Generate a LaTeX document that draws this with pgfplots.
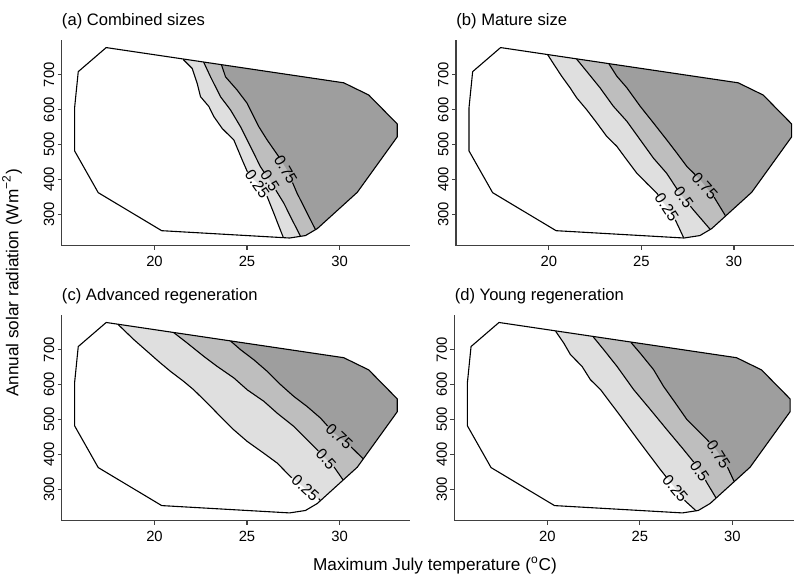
\documentclass[border=0pt]{standalone}
\usepackage{fontspec}
\setmainfont{Liberation Sans}
\usepackage{pgfplots}
\pgfplotsset{compat=1.18}

\definecolor{lev1}{gray}{0.875}
\definecolor{lev2}{gray}{0.745}
\definecolor{lev3}{gray}{0.62}
\definecolor{axcol}{gray}{0.25}

\pgfplotsset{
  panel/.style={
    scale only axis, width=174.3pt, height=102.9pt,
    xmin=14.98, xmax=33.82, ymin=210, ymax=800,
    axis lines=left,
    axis line style={-, axcol, line width=0.6pt},
    xtick={20,25,30}, ytick={300,400,500,600,700},
    tick align=outside, major tick length=2pt,
    tick style={axcol, line width=0.6pt},
    /pgf/number format/assume math mode=true,
    tick label style={font=\fontsize{7.4}{8}\selectfont},
    xticklabel style={inner sep=3pt},
    yticklabel style={rotate=90, anchor=south, inner sep=1.5pt},
    clip=false,
  },
  cline/.style={black, line width=0.55pt, line join=round},
}
\tikzset{
  clab/.style={font=\fontsize{7.8}{8}\selectfont, inner sep=0pt},
  ptitle/.style={anchor=base west, inner sep=0pt, yshift=7.4pt,
                 font=\fontsize{8.3}{9}\selectfont},
}

% outline of the sampled climate space (same in every panel)
\newcommand\drawhull{%
  \addplot[cline] coordinates {
    (17.39,778) (30.23,677) (31.58,642) (33.12,559) (33.12,522) (30.96,363)
    (28.8,259) (28.16,239) (27.3,232) (20.39,253) (16.96,362) (15.68,482)
    (15.68,604) (15.88,709)} -- cycle;}

\begin{document}
\begin{tikzpicture}
\useasboundingbox (0,0) rectangle (397pt,288pt);

% ---------------- (a) Combined sizes
\begin{axis}[panel, at={(30.8pt,165.15pt)}, anchor=south west]
  \addplot[fill=lev1, draw=none] coordinates {
    (21.55,744) (22.04,718) (22.31,675) (22.49,637) (22.94,609) (23.21,580) (23.66,546)
    (24.29,513) (24.74,456) (25.1,413) (25.55,390) (26.09,352) (26.45,303) (26.72,266)
    (26.96,234) (27.3,232) (28.16,239) (28.8,259) (30.96,363) (33.12,522) (33.12,559)
    (31.58,642) (30.23,677)} -- cycle;
  \addplot[fill=lev2, draw=none] coordinates {
    (22.66,736) (23.03,694) (23.57,637) (24.11,599) (24.65,551) (25.19,494) (25.73,436)
    (26.45,379) (26.99,332) (27.44,284) (27.89,237) (28.16,239) (28.8,259) (30.96,363)
    (33.12,522) (33.12,559) (31.58,642) (30.23,677)} -- cycle;
  \addplot[fill=lev3, draw=none] coordinates {
    (23.62,729) (23.84,694) (24.47,656) (25.01,618) (25.28,589) (25.64,551) (26.09,513)
    (26.72,465) (27.17,427) (27.71,360) (28.16,313) (28.7,256) (28.8,259) (30.96,363)
    (33.12,522) (33.12,559) (31.58,642) (30.23,677)} -- cycle;
  % contour lines
  \addplot[cline] coordinates {(21.55,744) (22.04,718) (22.31,675) (22.49,637) (22.94,609)
    (23.21,580) (23.66,546) (24.29,513) (24.74,456) (25.02,422)};
  \addplot[cline] coordinates {(26.08,352) (26.45,303) (26.72,266) (26.96,234)};
  \addplot[cline] coordinates {(22.66,736) (23.03,694) (23.57,637) (24.11,599) (24.65,551)
    (25.19,494) (25.73,436) (25.92,421)};
  \addplot[cline] coordinates {(26.56,369) (26.99,332) (27.44,284) (27.89,237)};
  \addplot[cline] coordinates {(23.62,729) (23.84,694) (24.47,656) (25.01,618) (25.28,589)
    (25.64,551) (26.09,513) (26.72,465) (26.73,465)};
  \addplot[cline] coordinates {(27.46,391) (27.71,360) (28.16,313) (28.7,256)};
  \drawhull
  \node[clab, rotate=-55] at (axis cs:25.55,387) {0.25};
  \node[clab, rotate=-57] at (axis cs:26.24,395) {0.5};
  \node[clab, rotate=-60] at (axis cs:27.09,428) {0.75};
  \node[ptitle] at (rel axis cs:0,1) {(a) Combined sizes};
\end{axis}

% ---------------- (b) Mature size
\begin{axis}[panel, at={(228pt,165.15pt)}, anchor=south west]
  \addplot[fill=lev1, draw=none] coordinates {
    (19.93,758) (20.33,725) (20.69,696) (21.14,663) (21.5,634) (22.04,600) (22.59,562)
    (23.13,523) (23.67,495) (24.21,456) (24.75,418) (25.29,389) (25.84,360) (26.2,332)
    (26.65,303) (27.01,264) (27.28,233) (28.16,239) (28.8,259) (30.96,363) (33.12,522)
    (33.12,559) (31.58,642) (30.23,677)} -- cycle;
  \addplot[fill=lev2, draw=none] coordinates {
    (21.5,745) (22.04,710) (22.76,663) (23.48,610) (24.21,567) (24.93,514) (25.65,461)
    (26.36,418) (27.09,360) (27.82,312) (28.73,256) (28.8,259) (30.96,363) (33.12,522)
    (33.12,559) (31.58,642) (30.23,677)} -- cycle;
  \addplot[fill=lev3, draw=none] coordinates {
    (23.25,731) (23.67,696) (24.21,663) (24.93,610) (25.65,562) (26.36,514) (26.91,476)
    (27.46,437) (28.18,399) (28.91,351) (29.54,296) (30.96,363) (33.12,522) (33.12,559)
    (31.58,642) (30.23,677)} -- cycle;
  \addplot[cline] coordinates {(19.93,758) (20.33,725) (20.69,696) (21.14,663) (21.5,634)
    (22.04,600) (22.59,562) (23.13,523) (23.67,495) (24.21,456) (24.75,418) (25.29,389)
    (25.84,360) (25.9,356)};
  \addplot[cline] coordinates {(26.83,284) (27.01,264) (27.28,233)};
  \addplot[cline] coordinates {(21.5,745) (22.04,710) (22.76,663) (23.48,610) (24.21,567)
    (24.93,514) (25.65,461) (26.36,418) (26.92,373)};
  \addplot[cline] coordinates {(27.65,323) (27.82,312) (28.73,256)};
  \addplot[cline] coordinates {(23.25,731) (23.67,696) (24.21,663) (24.93,610) (25.65,562)
    (26.36,514) (26.91,476) (27.46,437) (27.9,414)};
  \addplot[cline] coordinates {(28.93,349) (29.54,296)};
  \drawhull
  \node[clab, rotate=-57] at (axis cs:26.37,320) {0.25};
  \node[clab, rotate=-54] at (axis cs:27.28,348) {0.5};
  \node[clab, rotate=-48] at (axis cs:28.42,382) {0.75};
  \node[ptitle] at (rel axis cs:0,1) {(b) Mature size};
\end{axis}

% ---------------- (c) Advanced regeneration
\begin{axis}[panel, at={(30.8pt,27.7pt)}, anchor=south west]
  \addplot[fill=lev1, draw=none] coordinates {
    (18.02,773) (18.88,729) (19.61,695) (20.23,666) (20.86,638) (21.58,609) (22.12,585)
    (22.85,547) (23.57,508) (24.29,470) (25.01,437) (25.91,403) (26.63,375) (27.35,336)
    (28.97,267) (30.96,363) (33.12,522) (33.12,559) (31.58,642) (30.23,677)} -- cycle;
  \addplot[fill=lev2, draw=none] coordinates {
    (21.04,749) (21.77,719) (22.66,681) (23.39,652) (24.29,619) (25.01,585) (25.91,552)
    (26.63,518) (27.53,480) (28.25,442) (28.97,403) (29.69,365) (30.2,326) (30.96,363)
    (33.12,522) (33.12,559) (31.58,642) (30.23,677)} -- cycle;
  \addplot[fill=lev3, draw=none] coordinates {
    (24.11,725) (24.65,700) (25.37,671) (26.09,638) (26.81,600) (27.53,566) (28.25,537)
    (28.97,504) (29.69,461) (30.41,432) (31.28,387) (33.12,522) (33.12,559) (31.58,642)
    (30.23,677)} -- cycle;
  \addplot[cline] coordinates {(18.02,773) (18.88,729) (19.61,695) (20.23,666) (20.86,638)
    (21.58,609) (22.12,585) (22.85,547) (23.57,508) (24.29,470) (25.01,437) (25.91,403)
    (26.63,375) (27.35,336) (27.42,333)};
  \addplot[cline] coordinates {(28.88,273) (28.97,267)};
  \addplot[cline] coordinates {(21.04,749) (21.77,719) (22.66,681) (23.39,652) (24.29,619)
    (25.01,585) (25.91,552) (26.63,518) (27.53,480) (28.25,442) (28.85,410)};
  \addplot[cline] coordinates {(29.7,364) (30.2,326)};
  \addplot[cline] coordinates {(24.11,725) (24.65,700) (25.37,671) (26.09,638) (26.81,600)
    (27.53,566) (28.25,537) (28.97,504) (29.36,481)};
  \addplot[cline] coordinates {(30.63,421) (31.28,387)};
  \drawhull
  \node[clab, rotate=-42] at (axis cs:28.15,303) {0.25};
  \node[clab, rotate=-48] at (axis cs:29.27,387) {0.5};
  \node[clab, rotate=-43] at (axis cs:29.99,451) {0.75};
  \node[ptitle] at (rel axis cs:0,1) {(c) Advanced regeneration};
\end{axis}

% ---------------- (d) Young regeneration
\begin{axis}[panel, at={(227.2pt,27.7pt)}, anchor=south west]
  \addplot[fill=lev1, draw=none] coordinates {
    (20.45,753) (20.89,719) (21.25,686) (21.88,652) (22.33,614) (22.87,586) (23.41,548)
    (23.95,510) (24.49,471) (25.02,433) (25.56,395) (26.1,357) (26.82,309) (27.36,271)
    (28.04,238) (28.16,239) (28.8,259) (30.96,363) (33.12,522) (33.12,559) (31.58,642)
    (30.23,677)} -- cycle;
  \addplot[fill=lev2, draw=none] coordinates {
    (22.48,737) (23.05,700) (23.77,652) (24.66,586) (25.56,529) (26.46,471) (27.36,414)
    (28.08,367) (28.62,319) (29.12,275) (30.96,363) (33.12,522) (33.12,559) (31.58,642)
    (30.23,677)} -- cycle;
  \addplot[fill=lev3, draw=none] coordinates {
    (24.52,721) (25.02,690) (25.74,643) (26.28,595) (26.91,548) (27.54,500) (28.26,462)
    (28.97,424) (29.51,386) (30.1,322) (30.96,363) (33.12,522) (33.12,559) (31.58,642)
    (30.23,677)} -- cycle;
  \addplot[cline] coordinates {(20.45,753) (20.89,719) (21.25,686) (21.88,652) (22.33,614)
    (22.87,586) (23.41,548) (23.95,510) (24.49,471) (25.02,433) (25.56,395) (26.1,357)
    (26.43,335)};
  \addplot[cline] coordinates {(27.42,268) (28.04,238)};
  \addplot[cline] coordinates {(22.48,737) (23.05,700) (23.77,652) (24.66,586) (25.56,529)
    (26.46,471) (27.36,414) (27.91,378)};
  \addplot[cline] coordinates {(28.55,326) (28.62,319) (29.12,275)};
  \addplot[cline] coordinates {(24.52,721) (25.02,690) (25.74,643) (26.28,595) (26.91,548)
    (27.54,500) (28.26,462) (28.74,436)};
  \addplot[cline] coordinates {(29.74,363) (30.1,322)};
  \drawhull
  \node[clab, rotate=-50] at (axis cs:26.91,302) {0.25};
  \node[clab, rotate=-56] at (axis cs:28.23,352) {0.5};
  \node[clab, rotate=-58] at (axis cs:29.25,400) {0.75};
  \node[ptitle] at (rel axis cs:0,1) {(d) Young regeneration};
\end{axis}

% shared axis titles
\node[anchor=base, font=\fontsize{8.6}{10}\selectfont] at (217.5pt,2.65pt)
  {Maximum July temperature (\textsuperscript{o}C)};
\node[anchor=base, rotate=90, font=\fontsize{8.6}{10}\selectfont] at (9.15pt,146.5pt)
  {Annual solar radiation (Wm\textsuperscript{−2})};
\end{tikzpicture}
\end{document}
